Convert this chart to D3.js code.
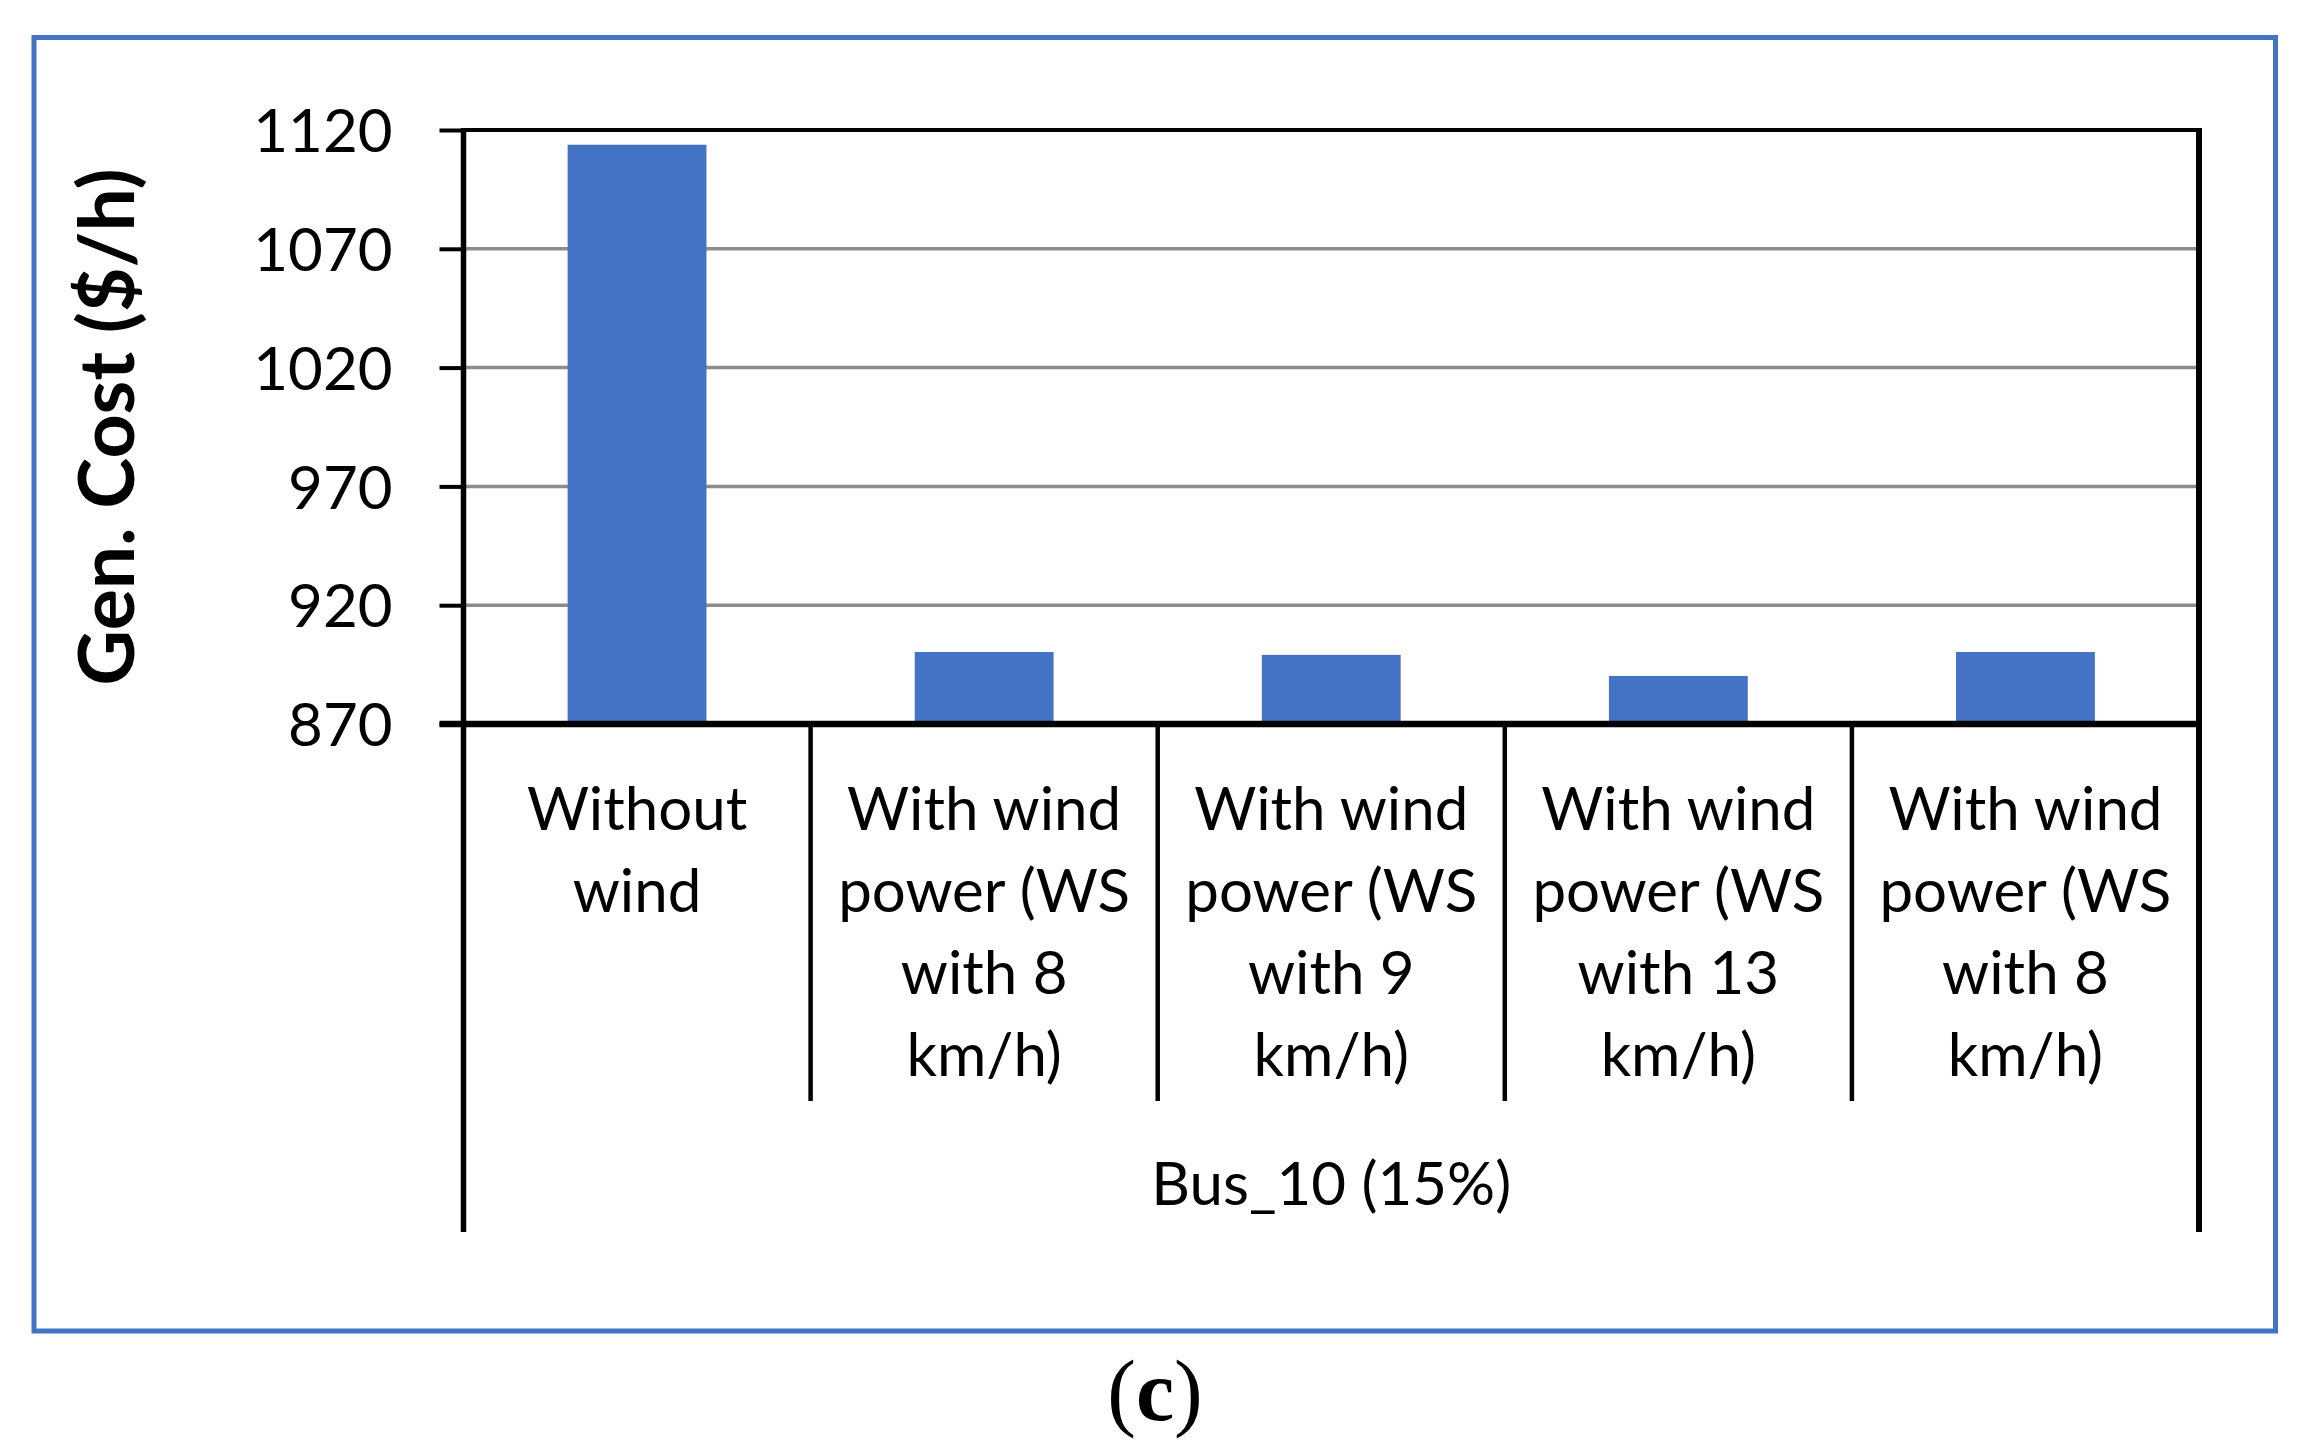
<!DOCTYPE html>
<html>
<head>
<meta charset="utf-8">
<script src="https://cdn.jsdelivr.net/npm/d3@7"></script>
<style>
  html, body { margin: 0; padding: 0; background: #fff; }
  svg { display: block; }
</style>
</head>
<body>
<svg id="chart" width="2322" height="1454"></svg>
<script>
// ---- data ----
const categoryLines = [
  ["Without", "wind"],
  ["With wind", "power (WS", "with 8", "km/h)"],
  ["With wind", "power (WS", "with 9", "km/h)"],
  ["With wind", "power (WS", "with 13", "km/h)"],
  ["With wind", "power (WS", "with 8", "km/h)"]
];
const categories = categoryLines.map((l, i) => i + ":" + l.join(" "));
const values = [1113.8, 900.3, 899.1, 890.2, 900.3];
const yTicks = [870, 920, 970, 1020, 1070, 1120];
const groupLabel = "Bus_10 (15%)";
const yTitle = "Gen. Cost ($/h)";
const captionLetter = "c";

// ---- layout ----
const svg = d3.select("#chart");
const L = 463.5, R = 2199, T = 130, B = 724;
const blue = "#4472C4";
const font = "Lato, 'Open Sans', sans-serif";

// outer blue frame
svg.append("rect")
  .attr("x", 34).attr("y", 37.5)
  .attr("width", 2275.5 - 34).attr("height", 1331 - 37.5)
  .attr("fill", "none").attr("stroke", blue).attr("stroke-width", 5);

const x = d3.scaleBand().domain(categories).range([L, R]).paddingInner(0.6).paddingOuter(0.3);
const xGroup = d3.scaleBand().domain(categories).range([L, R]).padding(0);
const y = d3.scaleLinear().domain([yTicks[0], yTicks[yTicks.length - 1]]).range([B, T]);

// gridlines
svg.append("g").selectAll("line")
  .data(yTicks.slice(1, -1))
  .join("line")
  .attr("x1", L).attr("x2", R)
  .attr("y1", d => y(d)).attr("y2", d => y(d))
  .attr("stroke", "#8c8c8c").attr("stroke-width", 3.5);

// bars
svg.append("g").selectAll("rect")
  .data(values)
  .join("rect")
  .attr("x", (d, i) => x(categories[i]))
  .attr("width", x.bandwidth())
  .attr("y", d => y(d))
  .attr("height", d => y(yTicks[0]) - y(d))
  .attr("fill", blue);

// y axis ticks + labels
const yAxis = d3.axisLeft(y).tickValues(yTicks).tickFormat(d3.format("d"))
  .tickSizeInner(24).tickSizeOuter(0).tickPadding(47);
const gy = svg.append("g").attr("transform", `translate(${L},0)`).call(yAxis);
gy.select(".domain").remove();
gy.selectAll(".tick line").attr("stroke", "#000").attr("stroke-width", 4);
gy.selectAll(".tick text")
  .attr("font-family", font).attr("font-size", 60).attr("fill", "#000")
  .attr("dy", "0.36em");

// plot frame
svg.append("line").attr("x1", L - 2).attr("x2", R + 3).attr("y1", T).attr("y2", T)
  .attr("stroke", "#000").attr("stroke-width", 4);
svg.append("line").attr("x1", R).attr("x2", R).attr("y1", T - 2).attr("y2", 1232)
  .attr("stroke", "#000").attr("stroke-width", 6);
svg.append("line").attr("x1", L).attr("x2", L).attr("y1", T - 2).attr("y2", 1232)
  .attr("stroke", "#000").attr("stroke-width", 5.5);
svg.append("line").attr("x1", L - 24).attr("x2", R + 3).attr("y1", B).attr("y2", B)
  .attr("stroke", "#000").attr("stroke-width", 6.5);

// category separators
svg.append("g").selectAll("line")
  .data(categories.slice(1))
  .join("line")
  .attr("x1", d => xGroup(d)).attr("x2", d => xGroup(d))
  .attr("y1", B).attr("y2", 1101)
  .attr("stroke", "#000").attr("stroke-width", 4.5);

// category labels
const labG = svg.append("g")
  .attr("font-family", font).attr("font-size", 60).attr("fill", "#000")
  .attr("text-anchor", "middle");
categoryLines.forEach((lines, i) => {
  const cx = xGroup(categories[i]) + xGroup.bandwidth() / 2;
  lines.forEach((t, j) => {
    labG.append("text").attr("x", cx).attr("y", 830 + j * 82).text(t);
  });
});

// group label
svg.append("text")
  .attr("x", (L + R) / 2).attr("y", 1205)
  .attr("font-family", font).attr("font-size", 60).attr("fill", "#000")
  .attr("text-anchor", "middle").text(groupLabel);

// y title
svg.append("text")
  .attr("transform", `translate(134,${(T + B) / 2}) rotate(-90)`)
  .attr("font-family", font).attr("font-size", 77).attr("font-weight", "bold")
  .attr("fill", "#000").attr("text-anchor", "middle").text(yTitle);

// caption
const cap = svg.append("text")
  .attr("x", 1155).attr("y", 1420)
  .attr("font-family", "'Liberation Serif', 'DejaVu Serif', serif").attr("font-size", 86)
  .attr("fill", "#000").attr("text-anchor", "middle");
cap.append("tspan").text("(");
cap.append("tspan").attr("font-weight", "bold").text(captionLetter);
cap.append("tspan").text(")");
</script>
</body>
</html>
